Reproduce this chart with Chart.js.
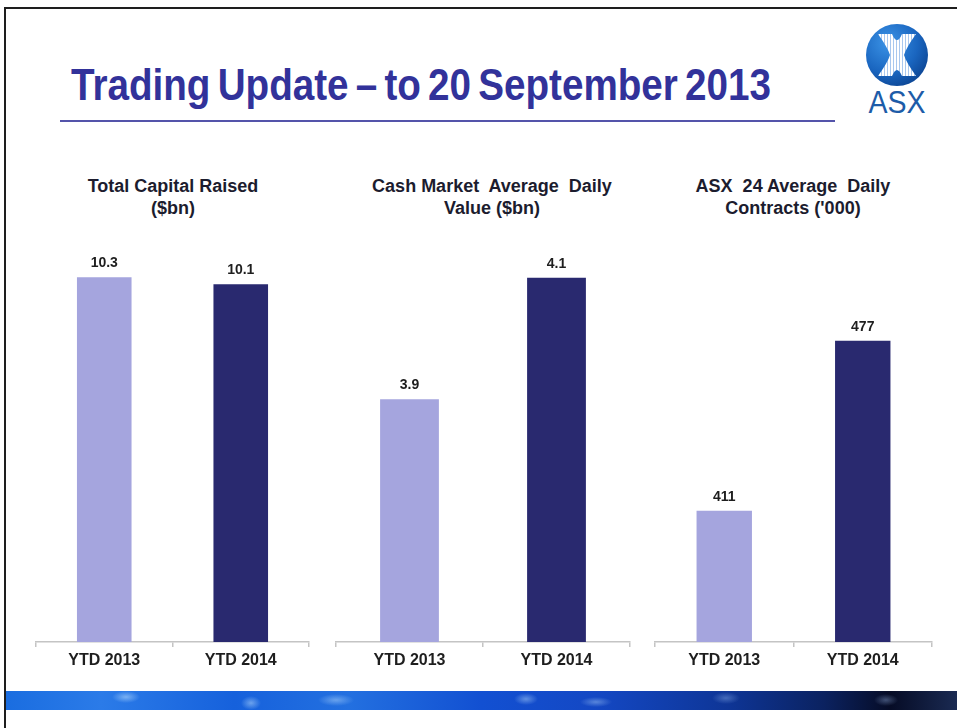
<!DOCTYPE html>
<html>
<head>
<meta charset="utf-8">
<title>Trading Update – to 20 September 2013</title>
<script src="https://cdn.jsdelivr.net/npm/chart.js@4.4.0/dist/chart.umd.min.js"></script>
<style>
    html, body { margin: 0; padding: 0; background: #fff; }
    body { width: 957px; height: 728px; position: relative; overflow: hidden; font-family: "Liberation Sans", Arial, sans-serif; }
    .frame { position: absolute; left: 4px; top: 7px; width: 990px; height: 760px; border: 2px solid #1e1e1e; }
    #slideTitle { position: absolute; left: 71px; top: 63px; font-weight: bold; font-size: 44px; line-height: 44px;
        font-family: "Liberation Sans", Arial, sans-serif; color: #32329a; white-space: pre; word-spacing: -4px;
        transform-origin: left top; }
    .rule { position: absolute; left: 60px; top: 120px; width: 775px; height: 2px; background: #5454aa; }
    .logo { position: absolute; left: 857px; top: 18px; width: 80px; height: 104px; }
    .logo-text { position: absolute; left: 857px; top: 86px; width: 80px; text-align: center; font-size: 31px; line-height: 34px;
        color: #1d5ca8; transform: scaleX(0.92); }
    .chart-title { position: absolute; top: 175px; width: 300px; text-align: center; font-weight: bold; font-size: 18px;
        line-height: 22px; color: #1c1c2e; white-space: pre; }
    .chart-box { position: absolute; top: 200px; }
    .banner { position: absolute; left: 6px; top: 691px; width: 951px; height: 19px;
        background:
            radial-gradient(ellipse 14px 6px at 120px 6px, rgba(190,225,255,0.55), rgba(190,225,255,0)),
            radial-gradient(ellipse 10px 7px at 245px 12px, rgba(190,225,255,0.5), rgba(190,225,255,0)),
            radial-gradient(ellipse 18px 6px at 330px 9px, rgba(190,225,255,0.45), rgba(190,225,255,0)),
            radial-gradient(ellipse 12px 6px at 520px 8px, rgba(190,225,255,0.45), rgba(190,225,255,0)),
            radial-gradient(ellipse 16px 5px at 590px 11px, rgba(190,225,255,0.4), rgba(190,225,255,0)),
            radial-gradient(ellipse 14px 6px at 720px 7px, rgba(170,205,255,0.35), rgba(170,205,255,0)),
            radial-gradient(ellipse 12px 6px at 880px 9px, rgba(150,180,230,0.4), rgba(150,180,230,0)),
            linear-gradient(90deg, #1a6de0 0%, #2b7be8 10%, #1661dc 24%, #2370e0 36%, #1250d2 50%, #1448c4 62%, #0e3596 76%, #0b2260 86%, #060c26 93%, #1a2a52 100%); }
</style>
</head>
<body>
<div class="frame"></div>
<div id="slideTitle">Trading Update – to 20 September 2013</div>
<div class="rule"></div>

<svg class="logo" viewBox="0 0 80 104">
    <defs>
        <radialGradient id="logoBlue" cx="0.35" cy="0.3" r="0.8">
            <stop offset="0" stop-color="#3b93e6"/>
            <stop offset="0.6" stop-color="#1a66c0"/>
            <stop offset="1" stop-color="#0b428f"/>
        </radialGradient>
        <pattern id="stripes" width="3" height="10" patternUnits="userSpaceOnUse">
            <rect width="3" height="10" fill="#ffffff"/>
            <rect width="1" height="10" fill="#a9c8ee"/>
        </pattern>
    </defs>
    <circle cx="40" cy="37" r="31" fill="url(#logoBlue)"/>
    <path d="M21 16 L35 16 Q40 28 45 16 L59 16 Q49 30 47 37 Q49 44 59 58 L45 58 Q40 46 35 58 L21 58 Q31 44 33 37 Q31 30 21 16 Z" fill="url(#stripes)"/>
</svg>
<div class="logo-text">ASX</div>

<div class="chart-title" style="left:23px;">Total Capital Raised
($bn)</div>
<div class="chart-title" style="left:342px;">Cash Market  Average  Daily
Value ($bn)</div>
<div class="chart-title" style="left:643px;">ASX  24 Average  Daily
Contracts ('000)</div>

<canvas id="capitalChart" class="chart-box" style="left:26px;" width="293" height="490"></canvas>
<canvas id="cashChart" class="chart-box" style="left:326px;" width="314" height="490"></canvas>
<canvas id="asx24Chart" class="chart-box" style="left:645px;" width="297" height="490"></canvas>

<div class="banner"></div>

<script>
// data
const categories = ['YTD 2013', 'YTD 2014'];
const capitalRaised = [10.3, 10.1];     // $bn
const cashMarketValue = [3.9, 4.1];     // $bn
const asx24Contracts = [411, 477];      // '000

const barColors = ['#a5a5de', '#29296f'];
const labelFont = '"Liberation Sans", Arial, sans-serif';

// value above each bar
const valueLabels = {
    id: 'valueLabels',
    afterDatasetsDraw(chart, args, opts) {
        const ctx = chart.ctx;
        const meta = chart.getDatasetMeta(0);
        const values = chart.data.datasets[0].data;
        ctx.save();
        ctx.font = 'bold 14px ' + labelFont;
        ctx.fillStyle = '#1e1e1e';
        ctx.textAlign = 'center';
        ctx.textBaseline = 'alphabetic';
        meta.data.forEach(function(bar, i) {
            ctx.fillText(values[i].toFixed(opts.decimals), bar.x, bar.y - 10);
        });
        ctx.restore();
    }
};

function makeBarChart(canvasId, values, yMin, yMax, decimals) {
    const ctx = document.getElementById(canvasId).getContext('2d');
    return new Chart(ctx, {
        type: 'bar',
        data: {
            labels: categories,
            datasets: [{
                data: values,
                backgroundColor: barColors,
                borderWidth: 0,
                barPercentage: 0.4,
                categoryPercentage: 1
            }]
        },
        options: {
            responsive: false,
            animation: false,
            layout: { padding: { top: 17, left: 10, right: 10, bottom: 0 } },
            plugins: {
                legend: { display: false },
                tooltip: { enabled: false },
                valueLabels: { decimals: decimals }
            },
            scales: {
                x: {
                    grid: { display: true, drawOnChartArea: false, drawTicks: true, tickLength: 5,
                            color: '#c4c4c4', lineWidth: 1.5, offset: true },
                    border: { display: true, color: '#c4c4c4', width: 1.5 },
                    ticks: { color: '#1e1e1e', padding: 4, font: { family: labelFont, size: 16, weight: 'bold' } },
                    afterFit: function(scale) { scale.height = 48; }
                },
                y: { display: false, min: yMin, max: yMax }
            }
        },
        plugins: [valueLabels]
    });
}

// squeeze the title to the slide's narrow heading width
function fitTitle() {
    const el = document.getElementById('slideTitle');
    const w = el.getBoundingClientRect().width;
    el.style.transform = 'scaleX(' + (700 / w) + ')';
}

fitTitle();
makeBarChart('capitalChart', capitalRaised, 0, 12, 1);
makeBarChart('cashChart', cashMarketValue, 3.5, 4.2, 1);
makeBarChart('asx24Chart', asx24Contracts, 360, 525, 0);
</script>
</body>
</html>
